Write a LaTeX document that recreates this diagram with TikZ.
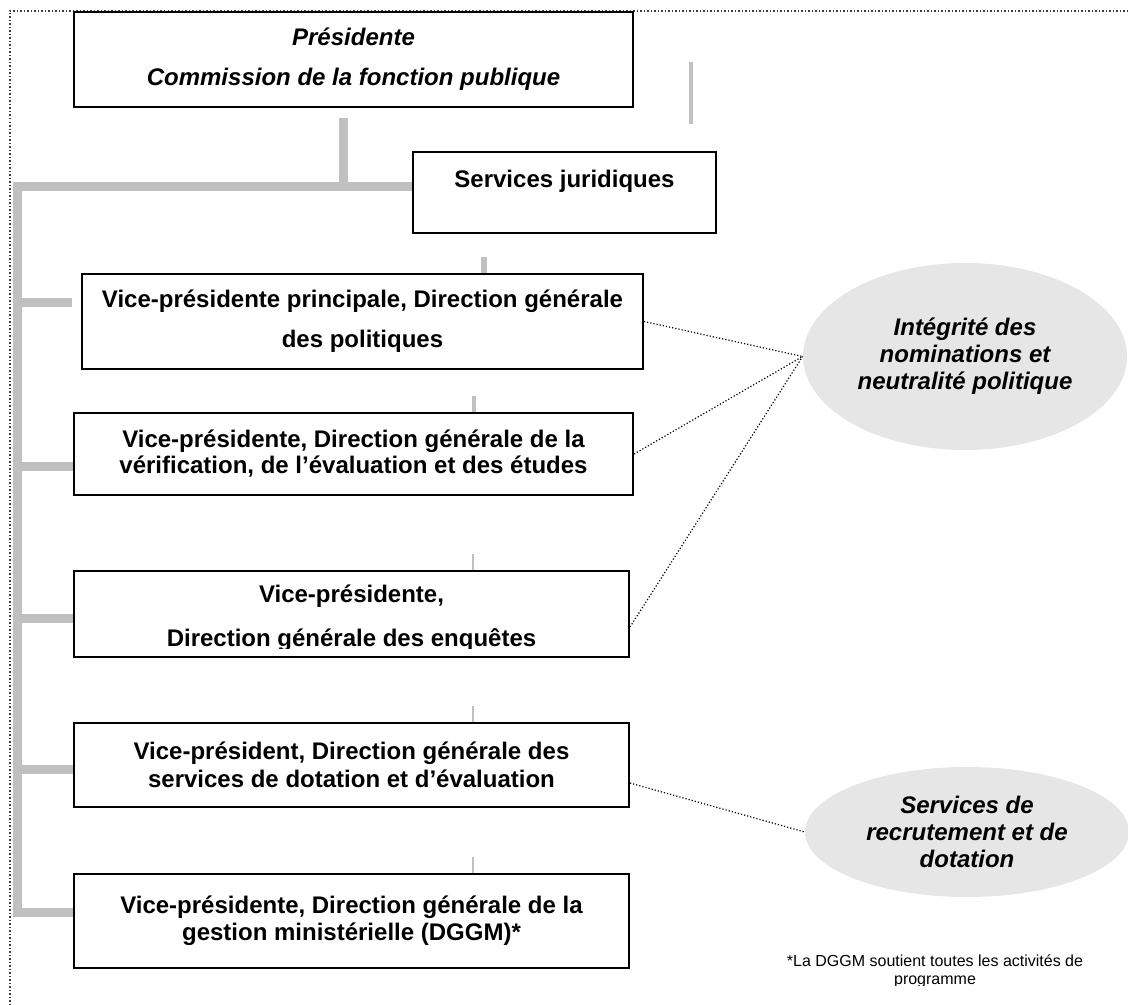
\documentclass[tikz,border=0pt]{standalone}
\usepackage{fontspec}
\setmainfont{Liberation Sans}
\usepackage{tikz}
\usetikzlibrary{shapes,positioning,calc}

\definecolor{bargray}{RGB}{192,192,192}
\definecolor{ovalgray}{RGB}{230,230,230}

\begin{document}
\begin{tikzpicture}[x=0.5pt, y=-0.5pt,
    box/.style={rectangle, draw, line width=1pt, inner sep=0pt, align=center, font=\bfseries\fontsize{12}{13.5}\selectfont},
    oval/.style={ellipse, fill=ovalgray, inner sep=0pt, minimum width=162pt, align=center, font=\bfseries\itshape\fontsize{12}{13.5}\selectfont},
    bar/.style={draw=bargray, line width=4.5pt},
    tick/.style={draw=bargray},
    link/.style={densely dotted, line width=0.6pt}
]

\useasboundingbox (0,0) rectangle (1128,1005);

% Frame
\draw[densely dotted, line width=0.75pt, black!75] (1128,11) -- (10,11) -- (10,1005);

% President and legal services
\node[box, minimum width=279.5pt, minimum height=47.5pt, font=\bfseries\itshape\fontsize{12}{20}\selectfont] (pres) at (353.5,59.5) {Présidente\\Commission de la fonction publique};
\node[box, minimum width=151.5pt, minimum height=40.5pt] (jur) at (564.5,192.5) {Services juridiques\\~};

% Vice-presidents
\node[box, minimum width=280.5pt, minimum height=47.5pt, font=\bfseries\fontsize{12}{20}\selectfont] (vp1) at (362.5,321.5) {Vice-présidente principale, Direction générale\\des politiques};
\node[box, minimum width=279.5pt, minimum height=41pt, font=\bfseries\fontsize{12}{13}\selectfont] (vp2) at (353.5,454) {Vice-présidente, Direction générale de la\\vérification, de l’évaluation et des études};
\node[box, minimum width=277.5pt, minimum height=43pt] (vp3) at (351.5,614) {};
\node[box, minimum width=277.5pt, minimum height=42pt, font=\bfseries\fontsize{12}{14}\selectfont] (vp4) at (351.5,765) {Vice-président, Direction générale des\\services de dotation et d’évaluation};
\node[box, minimum width=277.5pt, minimum height=47pt] (vp5) at (351.5,921) {Vice-présidente, Direction générale de la\\gestion ministérielle (DGGM)*};

% enquetes text, cut at the bottom
\coordinate (cut) at (0,648);
\begin{scope}
\clip (vp3.north west) rectangle (vp3.east |- cut);
\node[align=center, font=\bfseries\fontsize{12}{22}\selectfont] (vp3text) at (351.5,618) {Vice-présidente,\\Direction générale des enquêtes};
\end{scope}

% Ovals
\node[oval, minimum height=93.5pt] (integ) at (965,356.5) {Intégrité des\\nominations et\\neutralité politique};
\node[oval, minimum height=65pt] (dot) at (967,832) {Services de\\recrutement et de\\dotation};

% Footnote
\begin{scope}
\clip (700,940) rectangle (1128,985);
\node[align=center, font=\fontsize{8}{9}\selectfont] (note) at (935,971) {*La DGGM soutient toutes les activités de\\programme};
\end{scope}

% Bars
\coordinate (hub) at (343,187);
\coordinate (bustop) at (17.5,187);
\coordinate (busend) at (17.5,912);
\draw[bar, shorten <=5pt] (pres.south -| hub) -- (hub);
\draw[bar] (jur.west |- hub) -- (bustop) -- (busend) -- (vp5.west |- busend);
\draw[bar, shorten >=4.5pt] (17.5,303) -- (vp1.west |- 0,303);
\foreach \v/\y in {vp2/466, vp3/618, vp4/769}
    \draw[bar] (17.5,\y) -- (\v.west |- 0,\y);

% Ticks
\draw[tick, line width=2pt] (691,62) -- (691,124);
\draw[tick, line width=3pt] (vp1.north -| 484,0) -- ++(0,-16);
\draw[tick, line width=2pt] (vp2.north -| 474,0) -- ++(0,-16);
\foreach \v in {vp3,vp4,vp5}
    \draw[tick, line width=1pt] (\v.north -| 473,0) -- ++(0,-16);

% Dotted links
\foreach \v in {vp1,vp2}
    \draw[link] (\v.east) -- (integ.west);
\draw[link] ([yshift=-6.5pt]vp3.east) -- (integ.west);
\draw[link] ([yshift=-9pt]vp4.east) -- (dot.west);

\end{tikzpicture}
\end{document}
